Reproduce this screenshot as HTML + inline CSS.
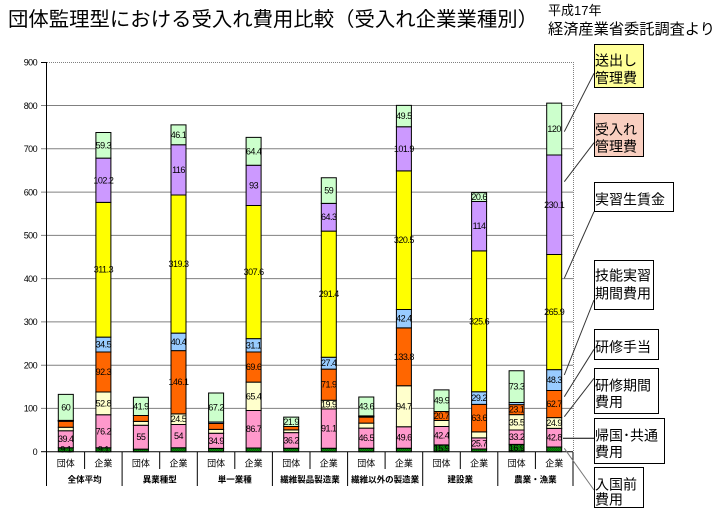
<!DOCTYPE html>
<html>
<head>
<meta charset="utf-8">
<style>
  html,body{margin:0;padding:0;background:#fff;}
  svg{display:block;}
  .jp{font-family:"Liberation Sans","Noto Sans CJK JP",sans-serif;}
  .d{font-family:"Liberation Sans","Noto Sans CJK JP",sans-serif;font-size:9px;text-anchor:middle;letter-spacing:-0.5px;fill:#000;}
  .yt{font-family:"Liberation Sans",sans-serif;font-size:9px;text-anchor:end;letter-spacing:-0.6px;fill:#000;}
  .xl{font-family:"Liberation Sans","Noto Sans CJK JP",sans-serif;font-size:9px;text-anchor:middle;fill:#000;}
  .gl{font-family:"Liberation Sans","Noto Sans CJK JP",sans-serif;font-size:8.5px;font-weight:bold;text-anchor:middle;fill:#000;}
  .lg{font-family:"Liberation Sans","Noto Sans CJK JP",sans-serif;font-size:14px;fill:#000;}
  .bars rect{stroke:#000;stroke-width:1;vector-effect:non-scaling-stroke;}
  .g{fill:url(#gp);} .p{fill:#FF99CC;} .l{fill:#FFFFCC;} .o{fill:#FF6600;}
  .b{fill:#99CCFF;} .y{fill:#FFFF00;} .v{fill:#CC99FF;} .m{fill:#CCFFCC;}
</style>
</head>
<body>
<svg width="717" height="511" viewBox="0 0 717 511" xmlns="http://www.w3.org/2000/svg">
<defs>
  <pattern id="gp" patternUnits="userSpaceOnUse" width="2" height="2" patternTransform="scale(1,-2.311)">
    <rect width="2" height="2" fill="#119911"/>
    <rect width="1" height="1" fill="#005500"/>
    <rect x="1" y="1" width="1" height="1" fill="#005500"/>
  </pattern>
</defs>
<rect width="717" height="511" fill="#fff"/>

<!-- Title -->
<text class="jp" x="8" y="26" font-size="20" textLength="530" lengthAdjust="spacingAndGlyphs">団体監理型における受入れ費用比較（受入れ企業業種別）</text>
<text class="jp" x="548" y="15" font-size="13">平成17年</text>
<text class="jp" x="548" y="34" font-size="15" textLength="167" lengthAdjust="spacingAndGlyphs">経済産業省委託調査より</text>

<!-- Gridlines -->
<g stroke="#808080" stroke-width="1">
  <line x1="41" y1="408.4" x2="573" y2="408.4"/>
  <line x1="41" y1="365.2" x2="573" y2="365.2"/>
  <line x1="41" y1="321.9" x2="573" y2="321.9"/>
  <line x1="41" y1="278.6" x2="573" y2="278.6"/>
  <line x1="41" y1="235.4" x2="573" y2="235.4"/>
  <line x1="41" y1="192.1" x2="573" y2="192.1"/>
  <line x1="41" y1="148.8" x2="573" y2="148.8"/>
  <line x1="41" y1="105.5" x2="573" y2="105.5"/>
</g>
<!-- plot border dotted -->
<g stroke="#808080" stroke-width="1" stroke-dasharray="1,1">
  <line x1="47" y1="62.5" x2="573" y2="62.5"/>
  <line x1="573.5" y1="62" x2="573.5" y2="452"/>
</g>
<line x1="41" y1="62.5" x2="47" y2="62.5" stroke="#000"/>
<line x1="41" y1="451.7" x2="47" y2="451.7" stroke="#000"/>

<!-- Bars -->
<g class="bars" transform="translate(0,451.7) scale(1,-0.4327)">
  <!-- 0 -->
  <rect class="g" x="58.3" y="0" width="15" height="9.1"/>
  <rect class="p" x="58.3" y="9.1" width="15" height="39.4"/>
  <rect class="l" x="58.3" y="48.5" width="15" height="8"/>
  <rect class="o" x="58.3" y="56.5" width="15" height="14"/>
  <rect class="b" x="58.3" y="70.5" width="15" height="0.8"/>
  <rect class="y" x="58.3" y="71.3" width="15" height="0.5"/>
  <rect class="v" x="58.3" y="71.8" width="15" height="0.7"/>
  <rect class="m" x="58.3" y="72.5" width="15" height="60"/>
  <!-- 1 -->
  <rect class="g" x="95.9" y="0" width="15" height="9.1"/>
  <rect class="p" x="95.9" y="9.1" width="15" height="76.2"/>
  <rect class="l" x="95.9" y="85.3" width="15" height="52.8"/>
  <rect class="o" x="95.9" y="138.1" width="15" height="92.3"/>
  <rect class="b" x="95.9" y="230.4" width="15" height="34.5"/>
  <rect class="y" x="95.9" y="264.9" width="15" height="311.3"/>
  <rect class="v" x="95.9" y="576.2" width="15" height="102.2"/>
  <rect class="m" x="95.9" y="678.4" width="15" height="59.3"/>
  <!-- 2 -->
  <rect class="g" x="133.4" y="0" width="15" height="6"/>
  <rect class="p" x="133.4" y="6" width="15" height="55"/>
  <rect class="l" x="133.4" y="61" width="15" height="9"/>
  <rect class="o" x="133.4" y="70" width="15" height="13.8"/>
  <rect class="m" x="133.4" y="83.8" width="15" height="41.9"/>
  <!-- 3 -->
  <rect class="g" x="171" y="0" width="15" height="9"/>
  <rect class="p" x="171" y="9" width="15" height="54"/>
  <rect class="l" x="171" y="63" width="15" height="24.5"/>
  <rect class="o" x="171" y="87.5" width="15" height="146.1"/>
  <rect class="b" x="171" y="233.6" width="15" height="40.4"/>
  <rect class="y" x="171" y="274" width="15" height="319.3"/>
  <rect class="v" x="171" y="593.3" width="15" height="116"/>
  <rect class="m" x="171" y="709.3" width="15" height="46.1"/>
  <!-- 4 -->
  <rect class="g" x="208.6" y="0" width="15" height="7.6"/>
  <rect class="p" x="208.6" y="7.6" width="15" height="34.9"/>
  <rect class="l" x="208.6" y="42.5" width="15" height="9"/>
  <rect class="o" x="208.6" y="51.5" width="15" height="14"/>
  <rect class="b" x="208.6" y="65.5" width="15" height="3"/>
  <rect class="m" x="208.6" y="68.5" width="15" height="67.2"/>
  <!-- 5 -->
  <rect class="g" x="246.1" y="0" width="15" height="8.6"/>
  <rect class="p" x="246.1" y="8.6" width="15" height="86.7"/>
  <rect class="l" x="246.1" y="95.3" width="15" height="65.4"/>
  <rect class="o" x="246.1" y="160.7" width="15" height="69.6"/>
  <rect class="b" x="246.1" y="230.3" width="15" height="31.1"/>
  <rect class="y" x="246.1" y="261.4" width="15" height="307.6"/>
  <rect class="v" x="246.1" y="569" width="15" height="93"/>
  <rect class="m" x="246.1" y="662" width="15" height="64.4"/>
  <!-- 6 -->
  <rect class="g" x="283.7" y="0" width="15" height="8"/>
  <rect class="p" x="283.7" y="8" width="15" height="36.2"/>
  <rect class="l" x="283.7" y="44.2" width="15" height="6.2"/>
  <rect class="o" x="283.7" y="50.4" width="15" height="7.7"/>
  <rect class="m" x="283.7" y="58.1" width="15" height="21.9"/>
  <!-- 7 -->
  <rect class="g" x="321.3" y="0" width="15" height="8"/>
  <rect class="p" x="321.3" y="8" width="15" height="91.1"/>
  <rect class="l" x="321.3" y="99.1" width="15" height="19.9"/>
  <rect class="o" x="321.3" y="119" width="15" height="71.9"/>
  <rect class="b" x="321.3" y="190.9" width="15" height="27.4"/>
  <rect class="y" x="321.3" y="218.3" width="15" height="291.4"/>
  <rect class="v" x="321.3" y="509.7" width="15" height="64.3"/>
  <rect class="m" x="321.3" y="574" width="15" height="59"/>
  <!-- 8 -->
  <rect class="g" x="358.8" y="0" width="15" height="7.9"/>
  <rect class="p" x="358.8" y="7.9" width="15" height="46.5"/>
  <rect class="l" x="358.8" y="54.4" width="15" height="11.6"/>
  <rect class="o" x="358.8" y="66" width="15" height="13.9"/>
  <rect class="b" x="358.8" y="79.9" width="15" height="1.5"/>
  <rect class="y" x="358.8" y="81.4" width="15" height="0.5"/>
  <rect class="v" x="358.8" y="81.9" width="15" height="0.8"/>
  <rect class="m" x="358.8" y="82.7" width="15" height="43.6"/>
  <!-- 9 -->
  <rect class="g" x="396.4" y="0" width="15" height="8"/>
  <rect class="p" x="396.4" y="8" width="15" height="49.6"/>
  <rect class="l" x="396.4" y="57.6" width="15" height="94.7"/>
  <rect class="o" x="396.4" y="152.3" width="15" height="133.8"/>
  <rect class="b" x="396.4" y="286.1" width="15" height="42.4"/>
  <rect class="y" x="396.4" y="328.5" width="15" height="320.5"/>
  <rect class="v" x="396.4" y="649" width="15" height="101.9"/>
  <rect class="m" x="396.4" y="750.9" width="15" height="49.5"/>
  <!-- 10 -->
  <rect class="g" x="434" y="0" width="15" height="15.9"/>
  <rect class="p" x="434" y="15.9" width="15" height="42.4"/>
  <rect class="l" x="434" y="58.3" width="15" height="13.9"/>
  <rect class="o" x="434" y="72.2" width="15" height="20.7"/>
  <rect class="m" x="434" y="92.9" width="15" height="49.9"/>
  <!-- 11 -->
  <rect class="g" x="471.6" y="0" width="15" height="6.2"/>
  <rect class="p" x="471.6" y="6.2" width="15" height="25.7"/>
  <rect class="l" x="471.6" y="31.9" width="15" height="13.9"/>
  <rect class="o" x="471.6" y="45.8" width="15" height="63.6"/>
  <rect class="b" x="471.6" y="109.4" width="15" height="29.2"/>
  <rect class="y" x="471.6" y="138.6" width="15" height="325.6"/>
  <rect class="v" x="471.6" y="464.2" width="15" height="114"/>
  <rect class="m" x="471.6" y="578.2" width="15" height="20.6"/>
  <!-- 12 -->
  <rect class="g" x="509.1" y="0" width="15" height="16.9"/>
  <rect class="p" x="509.1" y="16.9" width="15" height="33.2"/>
  <rect class="l" x="509.1" y="50.1" width="15" height="35.5"/>
  <rect class="o" x="509.1" y="85.6" width="15" height="23.1"/>
  <rect class="b" x="509.1" y="108.7" width="15" height="5"/>
  <rect class="m" x="509.1" y="113.7" width="15" height="73.3"/>
  <!-- 13 -->
  <rect class="g" x="546.7" y="0" width="15" height="11"/>
  <rect class="p" x="546.7" y="11" width="15" height="42.8"/>
  <rect class="l" x="546.7" y="53.8" width="15" height="24.9"/>
  <rect class="o" x="546.7" y="78.7" width="15" height="62.7"/>
  <rect class="b" x="546.7" y="141.4" width="15" height="48.3"/>
  <rect class="y" x="546.7" y="189.7" width="15" height="265.9"/>
  <rect class="v" x="546.7" y="455.6" width="15" height="230.1"/>
  <rect class="m" x="546.7" y="685.7" width="15" height="120"/>
</g>

<!-- Axes -->
<g stroke="#000" stroke-width="1">
  <line x1="46.5" y1="62" x2="46.5" y2="486"/>
  <line x1="47" y1="451.7" x2="573" y2="451.7"/>
  <line x1="84.6" y1="452" x2="84.6" y2="469"/>
  <line x1="122.1" y1="452" x2="122.1" y2="486"/>
  <line x1="159.7" y1="452" x2="159.7" y2="469"/>
  <line x1="197.3" y1="452" x2="197.3" y2="486"/>
  <line x1="234.8" y1="452" x2="234.8" y2="469"/>
  <line x1="272.4" y1="452" x2="272.4" y2="486"/>
  <line x1="310" y1="452" x2="310" y2="469"/>
  <line x1="347.6" y1="452" x2="347.6" y2="486"/>
  <line x1="385.1" y1="452" x2="385.1" y2="469"/>
  <line x1="422.7" y1="452" x2="422.7" y2="486"/>
  <line x1="460.3" y1="452" x2="460.3" y2="469"/>
  <line x1="497.8" y1="452" x2="497.8" y2="486"/>
  <line x1="535.4" y1="452" x2="535.4" y2="469"/>
  <line x1="573" y1="452" x2="573" y2="486"/>
</g>

<!-- Y tick labels -->
<text class="yt" x="37" y="455">0</text>
<text class="yt" x="37" y="411.7">100</text>
<text class="yt" x="37" y="368.5">200</text>
<text class="yt" x="37" y="325.2">300</text>
<text class="yt" x="37" y="281.9">400</text>
<text class="yt" x="37" y="238.7">500</text>
<text class="yt" x="37" y="195.4">600</text>
<text class="yt" x="37" y="152.1">700</text>
<text class="yt" x="37" y="108.8">800</text>
<text class="yt" x="37" y="65.6">900</text>

<!-- X labels -->
<text class="xl" x="65.8" y="466.5">団体</text>
<text class="xl" x="103.4" y="466.5">企業</text>
<text class="xl" x="140.9" y="466.5">団体</text>
<text class="xl" x="178.5" y="466.5">企業</text>
<text class="xl" x="216.1" y="466.5">団体</text>
<text class="xl" x="253.6" y="466.5">企業</text>
<text class="xl" x="291.2" y="466.5">団体</text>
<text class="xl" x="328.8" y="466.5">企業</text>
<text class="xl" x="366.3" y="466.5">団体</text>
<text class="xl" x="403.9" y="466.5">企業</text>
<text class="xl" x="441.5" y="466.5">団体</text>
<text class="xl" x="479.1" y="466.5">企業</text>
<text class="xl" x="516.6" y="466.5">団体</text>
<text class="xl" x="554.2" y="466.5">企業</text>

<text class="gl" x="84.6" y="482.5">全体平均</text>
<text class="gl" x="159.7" y="482.5">異業種型</text>
<text class="gl" x="234.8" y="482.5">単一業種</text>
<text class="gl" x="310" y="482.5">繊維製品製造業</text>
<text class="gl" x="385.1" y="482.5">繊維以外の製造業</text>
<text class="gl" x="460.3" y="482.5">建設業</text>
<text class="gl" x="535.4" y="482.5">農業・漁業</text>

<!-- Data labels -->
<text class="d" x="65.8" y="452.7">9.1</text>
<text class="d" x="65.8" y="442.2">39.4</text>
<text class="d" x="65.8" y="410.3">60</text>

<text class="d" x="103.4" y="452.7">9.1</text>
<text class="d" x="103.4" y="434.3">76.2</text>
<text class="d" x="103.4" y="406.4">52.8</text>
<text class="d" x="103.4" y="375">92.3</text>
<text class="d" x="103.4" y="347.5">34.5</text>
<text class="d" x="103.4" y="272.7">311.3</text>
<text class="d" x="103.4" y="183.3">102.2</text>
<text class="d" x="103.4" y="148.3">59.3</text>

<text class="d" x="140.9" y="440.2">55</text>
<text class="d" x="140.9" y="409.4">41.9</text>

<text class="d" x="178.5" y="439.1">54</text>
<text class="d" x="178.5" y="422.1">24.5</text>
<text class="d" x="178.5" y="385.2">146.1</text>
<text class="d" x="178.5" y="344.9">40.4</text>
<text class="d" x="178.5" y="267.1">319.3</text>
<text class="d" x="178.5" y="172.9">116</text>
<text class="d" x="178.5" y="137.8">46.1</text>

<text class="d" x="216.1" y="443.9">34.9</text>
<text class="d" x="216.1" y="410.5">67.2</text>

<text class="d" x="253.6" y="432.2">86.7</text>
<text class="d" x="253.6" y="399.3">65.4</text>
<text class="d" x="253.6" y="370.1">69.6</text>
<text class="d" x="253.6" y="348.3">31.1</text>
<text class="d" x="253.6" y="275">307.6</text>
<text class="d" x="253.6" y="188.4">93</text>
<text class="d" x="253.6" y="154.3">64.4</text>

<text class="d" x="291.2" y="443.4">36.2</text>
<text class="d" x="291.2" y="424.8">21.9</text>

<text class="d" x="328.8" y="431.5">91.1</text>
<text class="d" x="328.8" y="407.5">19.9</text>
<text class="d" x="328.8" y="387.7">71.9</text>
<text class="d" x="328.8" y="366.2">27.4</text>
<text class="d" x="328.8" y="297.2">291.4</text>
<text class="d" x="328.8" y="220.2">64.3</text>
<text class="d" x="328.8" y="193.6">59</text>

<text class="d" x="366.3" y="441.2">46.5</text>
<text class="d" x="366.3" y="409.5">43.6</text>

<text class="d" x="403.9" y="440.5">49.6</text>
<text class="d" x="403.9" y="409.3">94.7</text>
<text class="d" x="403.9" y="359.9">133.8</text>
<text class="d" x="403.9" y="321.7">42.4</text>
<text class="d" x="403.9" y="243.2">320.5</text>
<text class="d" x="403.9" y="151.8">101.9</text>
<text class="d" x="403.9" y="119.1">49.5</text>

<text class="d" x="441.5" y="451.3">15.9</text>
<text class="d" x="441.5" y="438.6">42.4</text>
<text class="d" x="441.5" y="419">20.7</text>
<text class="d" x="441.5" y="403.7">49.9</text>

<text class="d" x="479.1" y="446.5">25.7</text>
<text class="d" x="479.1" y="421.1">63.6</text>
<text class="d" x="479.1" y="401">29.2</text>
<text class="d" x="479.1" y="324.3">325.6</text>
<text class="d" x="479.1" y="229.2">114</text>
<text class="d" x="479.1" y="200.1">20.6</text>

<text class="d" x="516.6" y="451">16.9</text>
<text class="d" x="516.6" y="440.2">33.2</text>
<text class="d" x="516.6" y="425.3">35.5</text>
<text class="d" x="516.6" y="412.7">23.1</text>
<text class="d" x="516.6" y="389.6">73.3</text>

<text class="d" x="554.2" y="440.7">42.8</text>
<text class="d" x="554.2" y="426">24.9</text>
<text class="d" x="554.2" y="407.1">62.7</text>
<text class="d" x="554.2" y="383.1">48.3</text>
<text class="d" x="554.2" y="315.1">265.9</text>
<text class="d" x="554.2" y="207.8">230.1</text>
<text class="d" x="554.2" y="132">120</text>

<!-- Callout lines -->
<g stroke="#333" stroke-width="1">
  <line x1="564.3" y1="131.7" x2="594" y2="73.3"/>
  <line x1="564.3" y1="181.7" x2="594" y2="142.7"/>
  <line x1="564.3" y1="278.3" x2="594" y2="211.7"/>
  <line x1="564.3" y1="375" x2="594" y2="300"/>
  <line x1="564.3" y1="396.7" x2="594" y2="349.3"/>
  <line x1="564.3" y1="416.7" x2="594" y2="378.3"/>
  <line x1="563" y1="438.3" x2="594" y2="438.3" stroke="#000"/>
  <line x1="564.3" y1="448.3" x2="594" y2="490" stroke="#777"/>
</g>

<!-- Legend boxes -->
<g stroke="#000" stroke-width="1">
  <rect x="594.5" y="44.5" width="49" height="43" fill="#FFFF99"/>
  <rect x="594.5" y="113.5" width="49" height="43" fill="#F9CFC0"/>
  <rect x="594.5" y="182.5" width="79" height="29" fill="#fff"/>
  <rect x="594.5" y="260.5" width="59" height="49" fill="#fff"/>
  <rect x="594.5" y="329.5" width="64" height="30" fill="#fff"/>
  <rect x="594.5" y="368.5" width="64" height="45" fill="#fff"/>
  <rect x="594.5" y="418.5" width="70" height="45" fill="#fff"/>
  <rect x="594.5" y="467.5" width="49" height="40" fill="#fff"/>
</g>
<text class="lg" x="595" y="65.3">送出し</text>
<text class="lg" x="595" y="82.8">管理費</text>
<text class="lg" x="595" y="134.6">受入れ</text>
<text class="lg" x="595" y="151.3">管理費</text>
<text class="lg" x="595" y="204.6">実習生賃金</text>
<text class="lg" x="595" y="280.3">技能実習</text>
<text class="lg" x="595" y="298.6">期間費用</text>
<text class="lg" x="595" y="352">研修手当</text>
<text class="lg" x="595" y="390.3">研修期間</text>
<text class="lg" x="595" y="407">費用</text>
<text class="lg" x="595" y="440.3">帰国･共通</text>
<text class="lg" x="595" y="457">費用</text>
<text class="lg" x="595" y="489.3">入国前</text>
<text class="lg" x="595" y="504.6">費用</text>
</svg>
</body>
</html>
